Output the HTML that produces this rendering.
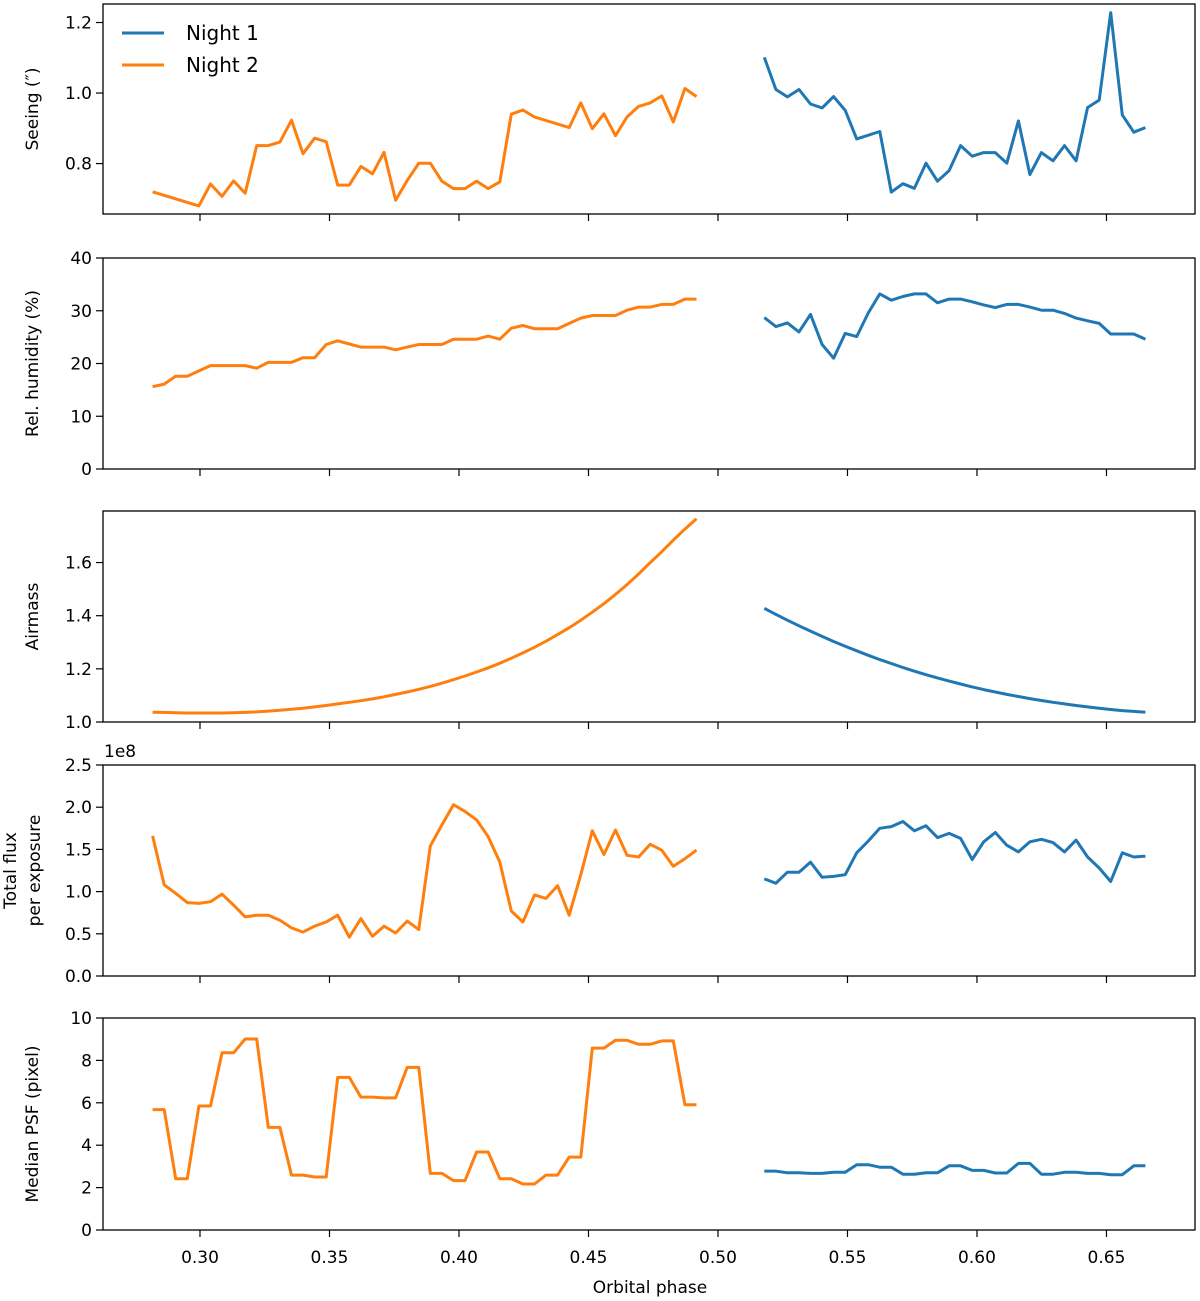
<!DOCTYPE html>
<html><head><meta charset="utf-8"><style>
body{margin:0;background:#fff;}
svg{display:block;font-family:"DejaVu Sans","Liberation Sans",sans-serif;}
</style></head><body>
<svg id="chart" width="1200" height="1301" viewBox="0 0 1200 1301" xmlns="http://www.w3.org/2000/svg"></svg>
<script>
// Night phase grids
const night2Start = 0.2817, night2Step = 0.004468, night2Count = 48;
const night1Start = 0.5179, night1Step = 0.004458, night1Count = 34;
const xTicks = [0.30,0.35,0.40,0.45,0.50,0.55,0.60,0.65];
const xTickLabels = ["0.30","0.35","0.40","0.45","0.50","0.55","0.60","0.65"];

// Seeing (null = no point)
const seeing2 = [0.720,null,null,null,0.680,0.742,0.707,0.751,0.716,0.851,0.851,0.861,0.923,0.828,0.872,0.862,0.739,0.739,0.792,0.771,0.832,0.696,0.752,0.801,0.801,0.750,0.729,0.729,0.750,0.729,0.748,0.940,0.952,0.932,null,null,0.902,0.972,0.899,0.941,0.879,0.932,0.962,0.972,0.992,0.918,1.013,0.990];
const seeing1 = [1.101,1.010,0.989,1.010,0.969,0.958,0.990,0.951,0.870,null,0.891,0.719,0.743,0.730,0.801,0.750,0.780,0.851,0.821,0.831,0.831,0.801,0.921,0.769,0.831,0.808,0.851,0.808,0.959,0.980,1.228,0.938,0.889,0.902];
// Relative humidity
const humid2 = [15.6,16.1,17.6,17.6,18.6,19.6,19.6,19.6,19.6,19.1,20.2,20.2,20.2,21.1,21.1,23.6,24.3,23.7,23.1,23.1,23.1,22.6,23.1,23.6,23.6,23.6,24.6,24.6,24.6,25.2,24.6,26.7,27.2,26.6,26.6,26.6,27.6,28.6,29.1,29.1,29.1,30.1,30.7,30.7,31.2,31.2,32.2,32.2];
const humid1 = [28.7,27.0,27.7,26.0,29.3,23.6,21.0,25.7,25.1,29.6,33.2,32.0,32.7,33.2,33.2,31.5,32.2,32.2,31.7,31.1,30.6,31.2,31.2,30.7,30.1,30.1,29.5,28.6,28.1,27.6,25.6,25.6,25.6,24.6];
// Airmass
const airmass2 = [1.037,1.036,1.035,1.034,1.034,1.034,1.034,1.035,1.036,1.038,1.041,1.044,1.048,1.052,1.057,1.062,1.068,1.074,1.080,1.087,1.095,1.104,1.113,1.123,1.134,1.146,1.159,1.173,1.188,1.204,1.221,1.240,1.260,1.281,1.304,1.329,1.355,1.383,1.413,1.445,1.480,1.517,1.557,1.600,1.641,1.684,1.726,1.765];
const airmass1 = [1.428,1.405,1.383,1.362,1.342,1.322,1.303,1.285,1.268,1.251,1.235,1.220,1.205,1.191,1.178,1.166,1.154,1.143,1.132,1.122,1.113,1.104,1.096,1.088,1.081,1.074,1.068,1.062,1.057,1.052,1.047,1.043,1.040,1.037];
// Total flux (1e8)
const flux2 = [1.66,1.08,0.98,0.87,0.86,0.88,0.97,0.84,0.70,0.72,0.72,0.66,0.57,0.52,0.59,0.64,0.72,0.46,0.68,0.47,0.59,0.51,0.65,0.55,1.54,1.79,2.03,1.95,1.85,1.65,1.35,0.77,0.64,0.96,0.92,1.07,0.72,1.20,1.72,1.44,1.73,1.43,1.41,1.56,1.49,1.30,1.39,1.49];
const flux1 = [1.15,1.10,1.23,1.23,1.35,1.17,1.18,1.20,1.46,1.60,1.75,1.77,1.83,1.72,1.78,1.64,1.69,1.63,1.38,1.59,1.70,1.55,1.47,1.59,1.62,1.58,1.47,1.61,1.41,1.28,1.12,1.46,1.41,1.42];
// Median PSF
const psf2 = [5.68,5.68,2.42,2.42,5.85,5.85,8.36,8.36,9.01,9.01,4.84,4.84,2.59,2.59,2.50,2.50,7.20,7.20,6.27,6.27,6.23,6.23,7.67,7.67,2.67,2.67,2.33,2.33,3.68,3.68,2.42,2.42,2.17,2.17,2.59,2.59,3.44,3.44,8.58,8.58,8.95,8.95,8.76,8.76,8.92,8.92,5.91,5.91];
const psf1 = [2.78,2.78,2.70,2.70,2.67,2.67,2.72,2.72,3.08,3.08,2.96,2.96,2.63,2.63,2.70,2.70,3.03,3.03,2.81,2.81,2.69,2.69,3.14,3.14,2.63,2.63,2.72,2.72,2.67,2.67,2.61,2.61,3.03,3.03];

const seeingTicks=[0.8,1.0,1.2], seeingLabels=["0.8","1.0","1.2"];
const humidTicks=[0,10,20,30,40], humidLabels=["0","10","20","30","40"];
const airTicks=[1.0,1.2,1.4,1.6], airLabels=["1.0","1.2","1.4","1.6"];
const fluxTicks=[0,0.5,1.0,1.5,2.0,2.5], fluxLabels=["0.0","0.5","1.0","1.5","2.0","2.5"];
const psfTicks=[0,2,4,6,8,10], psfLabels=["0","2","4","6","8","10"];

const NS="http://www.w3.org/2000/svg";
const svg=document.getElementById('chart');
const L=103,R=1195,XMIN=0.26255,XMAX=0.68418;
function xs(p){return L+(p-XMIN)/(XMAX-XMIN)*(R-L);}
function mk(tag,attrs,parent){const e=document.createElementNS(NS,tag);for(const k in attrs)e.setAttribute(k,attrs[k]);(parent||svg).appendChild(e);return e;}

const panels=[
 {name:'seeing',top:4,bot:214,min:0.657,max:1.2525,ticks:seeingTicks,labels:seeingLabels,s2:seeing2,s1:seeing1,title:['Seeing (″)']},
 {name:'humidity',top:258,bot:469,min:0,max:40,ticks:humidTicks,labels:humidLabels,s2:humid2,s1:humid1,title:['Rel. humidity (%)']},
 {name:'airmass',top:511,bot:722,min:1.0,max:1.794,ticks:airTicks,labels:airLabels,s2:airmass2,s1:airmass1,title:['Airmass']},
 {name:'flux',top:765,bot:976,min:0,max:2.5,ticks:fluxTicks,labels:fluxLabels,s2:flux2,s1:flux1,title:['Total flux','per exposure']},
 {name:'psf',top:1018,bot:1230,min:0,max:10,ticks:psfTicks,labels:psfLabels,s2:psf2,s1:psf1,title:['Median PSF (pixel)']}
];

panels.forEach((P,pi)=>{
  const g=mk('g',{});
  
  
  const ys=v=>P.bot-(v-P.min)/(P.max-P.min)*(P.bot-P.top);
  function line(arr,start,step,color,nm){
    let d='',pen=false;
    arr.forEach((v,i)=>{
      if(v===null)return;
      const x=xs(start+i*step),y=ys(v);
      d+=(pen?'L':'M')+x.toFixed(1)+' '+y.toFixed(1);pen=true;
    });
    const e=mk('path',{d:d,fill:'none',stroke:color,'stroke-width':3,'stroke-linejoin':'round'},g);
    
    
  }
  line(P.s2,night2Start,night2Step,'#ff7f0e',P.name+'-night2-line');
  line(P.s1,night1Start,night1Step,'#1f77b4',P.name+'-night1-line');
  const fr=mk('rect',{x:L,y:P.top,width:R-L,height:P.bot-P.top,fill:'none',stroke:'#000','stroke-width':1.3},g);
  
  
  P.ticks.forEach((t,i)=>{
    const y=ys(t);
    mk('line',{x1:L-7,x2:L,y1:y,y2:y,stroke:'#000','stroke-width':1.2},g);
    const tx=mk('text',{x:L-11,y:y+6,'text-anchor':'end','font-size':17,fill:'#000'},g);
    tx.textContent=P.labels[i];
    
    
  });
  xTicks.forEach((t,i)=>{
    const x=xs(t);
    mk('line',{x1:x,x2:x,y1:P.bot,y2:P.bot+7,stroke:'#000','stroke-width':1.2},g);
    if(pi===4){
      const tx=mk('text',{x:x,y:P.bot+33,'text-anchor':'middle','font-size':17,fill:'#000'},g);
      tx.textContent=xTickLabels[i];
      
      
    }
  });
  const cy=(P.top+P.bot)/2;
  const n=P.title.length;
  P.title.forEach((s,k)=>{
    const x=n===1?38:(16+k*24);
    const tx=mk('text',{x:x,y:cy,'text-anchor':'middle','font-size':17,fill:'#000',transform:'rotate(-90 '+x+' '+cy+')'},g);
    tx.textContent=s;
    
    
  });
});

const off=mk('text',{x:104,y:757,'font-size':17,fill:'#000'});
off.textContent='1e8';



const xt=mk('text',{x:650,y:1293,'text-anchor':'middle','font-size':17,fill:'#000'});
xt.textContent='Orbital phase';



const lg=mk('g',{});


[['Night 1','#1f77b4',33],['Night 2','#ff7f0e',65]].forEach(([t,c,y])=>{
  const ln=mk('line',{x1:122,x2:164,y1:y,y2:y,stroke:c,'stroke-width':3},lg);
  
  
  const tx=mk('text',{x:186,y:y+7,'font-size':20,fill:'#000'},lg);
  tx.textContent=t;
  
  
});
</script>
</body></html>
